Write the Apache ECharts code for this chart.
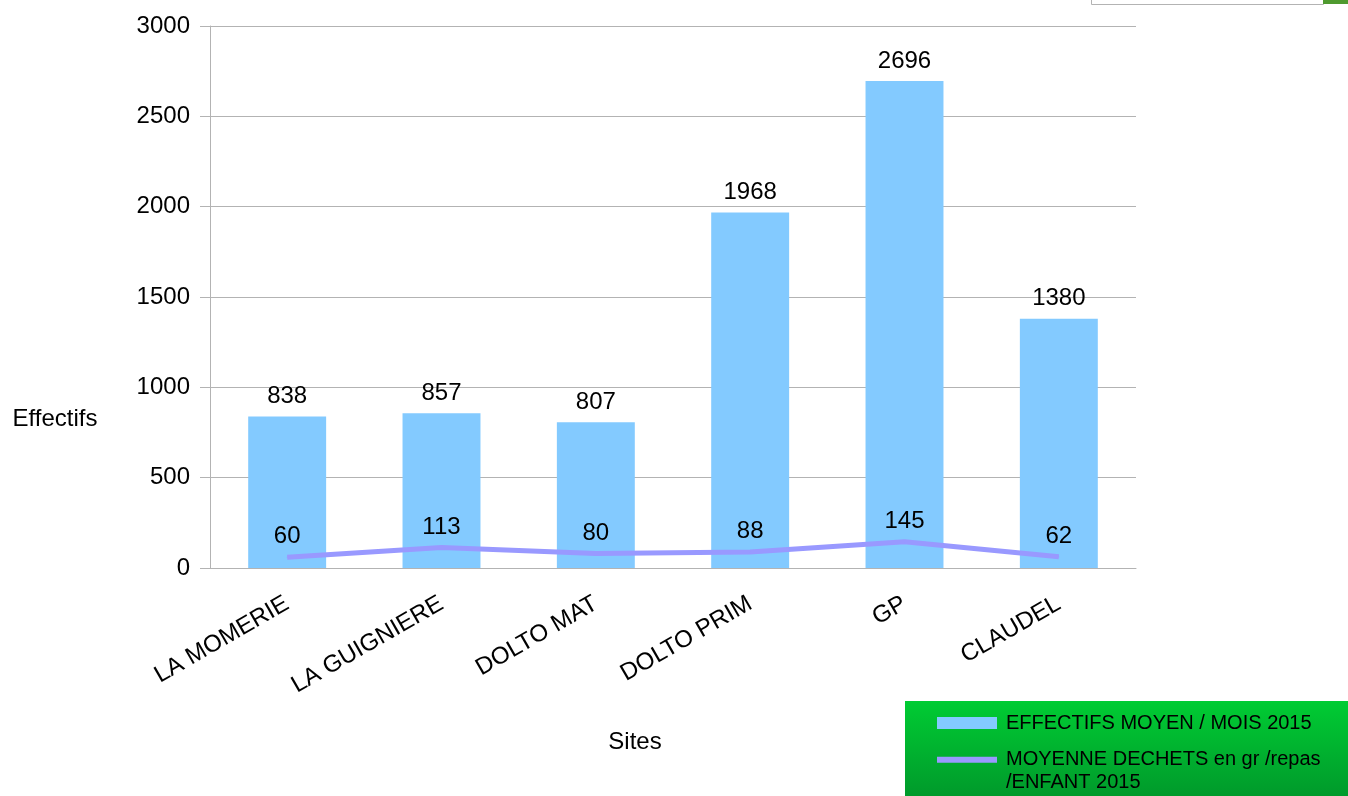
<!DOCTYPE html>
<html>
<head>
<meta charset="utf-8">
<script src="https://cdn.jsdelivr.net/npm/echarts@6/dist/echarts.min.js"></script>
<style>
  html, body { margin: 0; padding: 0; background: #fff; }
  #main { width: 1348px; height: 796px; }
</style>
</head>
<body>
<div id="main"></div>
<script>
var sites = ["LA MOMERIE", "LA GUIGNIERE", "DOLTO MAT", "DOLTO PRIM", "GP", "CLAUDEL"];
var effectifs = [838, 857, 807, 1968, 2696, 1380];
var dechets = [60, 113, 80, 88, 145, 62];
var yTicks = [0, 500, 1000, 1500, 2000, 2500, 3000];

var nameBar = "EFFECTIFS MOYEN / MOIS 2015";
var nameLine = "MOYENNE DECHETS en gr /repas\n/ENFANT 2015";

var chartDom = document.getElementById("main");
var myChart = echarts.init(chartDom);
var font = "Liberation Sans";
var gap = "\u2009";

var option = {
    backgroundColor: "#fff",
    animation: false,
    textStyle: { fontFamily: font },
    grid: { left: 210, right: 212, top: 26, bottom: 228, containLabel: false, outerBoundsMode: "none" },
    graphic: [
        {
            type: "rect",
            left: 905, top: 701,
            shape: { width: 443, height: 95 },
            style: {
                fill: new echarts.graphic.LinearGradient(0, 0, 0, 1, [
                    { offset: 0, color: "#00cc33" },
                    { offset: 1, color: "#009a2b" }
                ])
            },
            z: -1
        },
        {
            type: "rect",
            left: 1091, top: -6,
            shape: { width: 232, height: 10 },
            style: { fill: "#fff", stroke: "#b3b3b3", lineWidth: 1 }
        },
        {
            type: "rect",
            left: 1323, top: -6,
            shape: { width: 25, height: 10 },
            style: { fill: "#4f9a2f" }
        },
        {
            type: "text",
            x: 55, y: 419,
            style: { text: "Effectifs", font: "24px " + font, fill: "#000", align: "center", verticalAlign: "middle" }
        },
        {
            type: "text",
            x: 635, y: 742,
            style: { text: "Sites", font: "24px " + font, fill: "#000", align: "center", verticalAlign: "middle" }
        }
    ],
    legend: [
        {
            left: 937,
            top: 712,
            padding: 0,
            itemWidth: 60,
            itemHeight: 12,
            icon: "rect",
            textStyle: { fontSize: 20, color: "#000", fontFamily: font, lineHeight: 22 },
            formatter: function (name) { return gap + name; },
            data: [nameBar]
        },
        {
            left: 937,
            top: 726,
            padding: 0,
            itemWidth: 60,
            itemHeight: 6,
            icon: "rect",
            textStyle: { fontSize: 20, color: "#000", fontFamily: font, lineHeight: 22.5 },
            // blank first line so the first text line sits level with the icon
            formatter: function (name) { return gap + "\n" + gap + name.replace("\n", "\n" + gap); },
            data: [nameLine]
        }
    ],
    xAxis: {
        type: "category",
        data: sites,
        axisLine: { lineStyle: { color: "#b3b3b3" } },
        axisTick: { length: 10, lineStyle: { color: "#b3b3b3" } },
        axisLabel: { rotate: 30, fontSize: 24, color: "#000", margin: 34 }
    },
    yAxis: {
        type: "value",
        min: 0,
        max: 3000,
        interval: 500,
        axisLine: { show: true, lineStyle: { color: "#b3b3b3" } },
        axisTick: { show: true, length: 10, lineStyle: { color: "#b3b3b3" } },
        splitLine: { lineStyle: { color: "#b3b3b3" } },
        axisLabel: {
            fontSize: 24, color: "#000", margin: 20,
            formatter: function (v) { return yTicks.indexOf(v) >= 0 ? String(v) : ""; }
        }
    },
    series: [
        {
            name: nameBar,
            type: "bar",
            data: effectifs,
            barWidth: "50.5%",
            itemStyle: { color: "#83caff" },
            label: { show: true, position: "top", distance: 8, fontSize: 24, color: "#000" }
        },
        {
            name: nameLine,
            type: "line",
            data: dechets,
            symbol: "circle",
            symbolSize: 1,
            showSymbol: true,
            lineStyle: { color: "#9999ff", width: 5 },
            itemStyle: { color: "#9999ff" },
            label: { show: true, position: "top", distance: 8, fontSize: 24, color: "#000" },
            z: 3
        }
    ]
};

option && myChart.setOption(option);
window.addEventListener("resize", function () {
    myChart.resize();
});
</script>
</body>
</html>
